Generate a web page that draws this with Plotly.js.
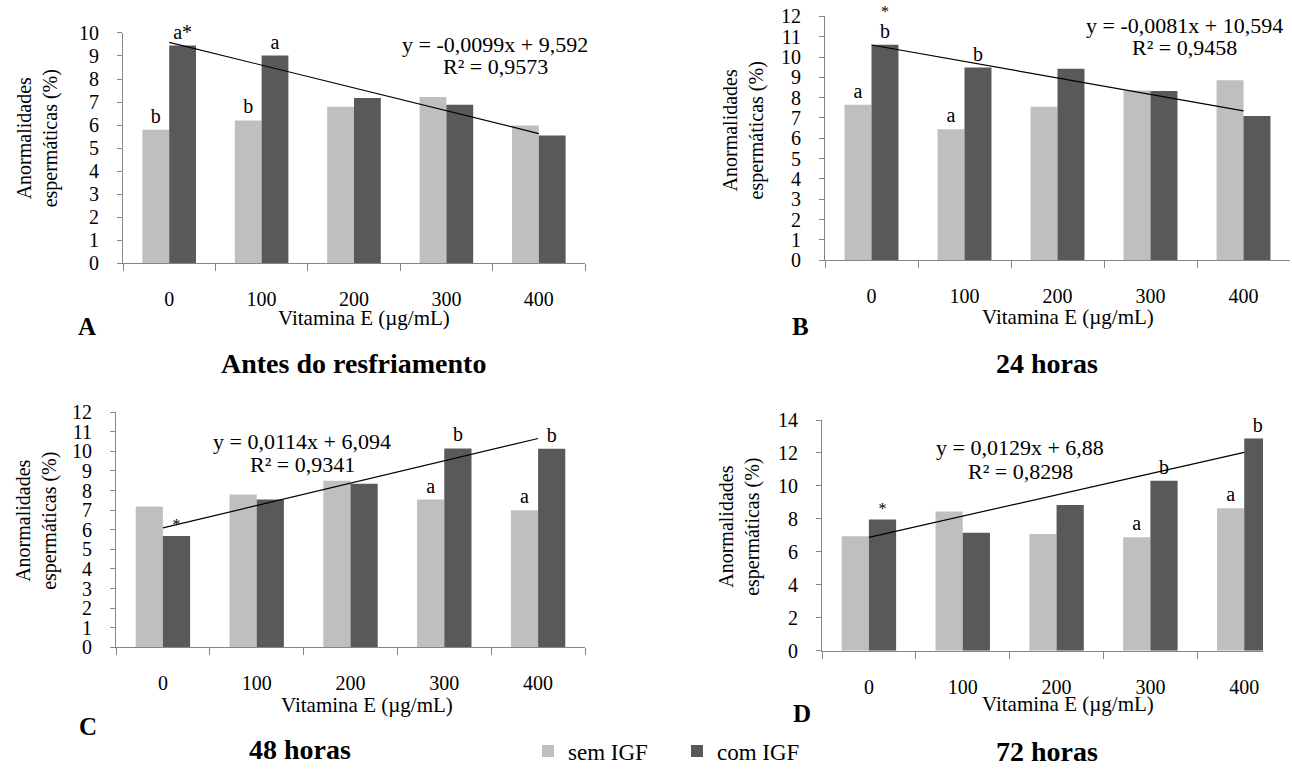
<!DOCTYPE html>
<html>
<head>
<meta charset="utf-8">
<script src="https://cdn.plot.ly/plotly-3.0.1.min.js"></script>
<style>html,body{margin:0;padding:0;background:#fff}#chart{width:1292px;height:773px}</style>
</head>
<body>
<div id="chart"></div>
<script>
// ---- data ----
const doses = ["0", "100", "200", "300", "400"];
const doseValues = [0, 100, 200, 300, 400];
const seriesNames = ["sem IGF", "com IGF"];

const semA = [5.8, 6.2, 6.8, 7.22, 5.98];
const comA = [9.45, 9.02, 7.18, 6.88, 5.55];
const semB = [7.65, 6.45, 7.55, 8.35, 8.86];
const comB = [10.6, 9.48, 9.43, 8.33, 7.1];
const semC = [7.18, 7.8, 8.5, 7.54, 7.0];
const comC = [5.68, 7.54, 8.35, 10.15, 10.13];
const semD = [6.95, 8.44, 7.08, 6.88, 8.64];
const comD = [7.96, 7.16, 8.84, 10.32, 12.88];

// letters of significance above the bars
const lblSemA = ["b", "b", "", "", ""];
const lblComA = ["a*", "a", "", "", ""];
const lblSemB = ["a", "a", "", "", ""];
const lblComB = ["b", "b", "", "", ""];
const starComB = ["*", "", "", "", ""];   // asterisk drawn above the letter
const lblSemC = ["", "", "", "a", "a"];
const lblComC = ["<span style='font-size:16px'>*</span>", "", "", "b", "b"];
const lblSemD = ["", "", "", "a", "a"];
const lblComD = ["<span style='font-size:16px'>*</span>", "", "", "b", "b"];

const slopes = [-0.0099, -0.0081, 0.0114, 0.0129];
const intercepts = [9.592, 10.594, 6.094, 6.88];
const equations = ["y = -0,0099x + 9,592", "y = -0,0081x + 10,594", "y = 0,0114x + 6,094", "y = 0,0129x + 6,88"];
const rsquared = ["R² = 0,9573", "R² = 0,9458", "R² = 0,9341", "R² = 0,8298"];
const panelLetters = ["A", "B", "C", "D"];
const panelTitles = ["Antes do resfriamento", "24 horas", "48 horas", "72 horas"];
const yMax = [10, 12, 12, 14];
const yStep = [1, 1, 1, 2];
const xTitle = "Vitamina E (µg/mL)";
const yTitle = "Anormalidades<br>espermáticas (%)";

// ---- styling / layout ----
const W = 1292, H = 773;
const FONT = "'Liberation Serif', 'Times New Roman', serif";
const LIGHT = "#bfbfbf", DARK = "#595959", AXIS = "#868686";
const px = v => v / W;
const py = v => 1 - v / H;

// panel geometry in pixels: left, right, bottom (y=0), top (y=max), x range end
const panels = [
  {l: 123, r: 585, b: 266.5, t: 33.3, xr: 4.5},
  {l: 825, r: 1290, b: 263.3, t: 16.6, xr: 4.5},
  {l: 116, r: 585, b: 655, t: 417, xr: 4.5},
  {l: 822, r: 1263, b: 658.3, t: 425, xr: 4.2}
];
const semAll = [semA, semB, semC, semD];
const comAll = [comA, comB, comC, comD];
const lblSemAll = [lblSemA, lblSemB, lblSemC, lblSemD];
const lblComAll = [lblComA, lblComB, lblComC, lblComD];

// text positions (pixels)
const eqPos = [[495, 45, 67], [1184, 26, 48], [302, 447, 470], [1020, 453, 477]];
const xTitlePos = [[364, 322], [1068, 321], [367, 713], [1068, 712]];
const yTitlePos = [[37, 140], [743, 132], [37, 527], [740, 533]];
const letterPos = [[87, 330], [800, 330], [88, 735], [802, 722]];
const titlePos = [[353, 368], [1047, 368], [300, 758], [1047, 760]];

const data = [];
const layout = {
  width: W, height: H,
  margin: {l: 0, r: 0, t: 0, b: 0},
  paper_bgcolor: "#fff", plot_bgcolor: "rgba(0,0,0,0)",
  font: {family: FONT, size: 20, color: "#000"},
  barmode: "group", bargap: 0.42, bargroupgap: 0,
  showlegend: true,
  legend: {orientation: "h", x: px(528), y: py(760), xanchor: "left", yanchor: "middle",
           font: {family: FONT, size: 23, color: "#000"}, bgcolor: "rgba(0,0,0,0)",
           entrywidth: 104, entrywidthmode: "pixels", itemwidth: 30, traceorder: "normal"},
  annotations: [], shapes: []
};

panels.forEach((p, i) => {
  const n = i === 0 ? "" : String(i + 1);
  const xa = "x" + n, ya = "y" + n;
  const textFont = {family: FONT, size: 20, color: "#000"};
  data.push({type: "bar", x: doses, y: semAll[i], name: seriesNames[0], xaxis: xa, yaxis: ya,
    marker: {color: LIGHT}, text: lblSemAll[i], textposition: "outside", textfont: textFont,
    cliponaxis: false, showlegend: i === 0, legendgroup: "sem", hoverinfo: "y"});
  data.push({type: "bar", x: doses, y: comAll[i], name: seriesNames[1], xaxis: xa, yaxis: ya,
    marker: {color: DARK}, text: lblComAll[i], textposition: "outside", textfont: textFont,
    cliponaxis: false, showlegend: i === 0, legendgroup: "com", hoverinfo: "y"});
  data.push({type: "scatter", mode: "lines", x: doses,
    y: doseValues.map(d => slopes[i] * d + intercepts[i]), xaxis: xa, yaxis: ya,
    line: {color: "#000", width: 1.2}, showlegend: false, hoverinfo: "skip", cliponaxis: false});

  layout["xaxis" + n] = {
    type: "category", domain: [px(p.l), px(p.r)], anchor: ya, range: [-0.5, p.xr],
    showline: true, linecolor: AXIS, linewidth: 1, showgrid: false, zeroline: false,
    ticks: "outside", tickson: "boundaries", ticklen: 7, tickcolor: AXIS, tickwidth: 1,
    ticklabelstandoff: 18, tickfont: {family: FONT, size: 20, color: "#000"}, fixedrange: true
  };
  layout["yaxis" + n] = {
    domain: [py(p.b), py(p.t)], anchor: xa, range: [0, yMax[i]], dtick: yStep[i], tick0: 0,
    showline: true, linecolor: AXIS, linewidth: 1, showgrid: false, zeroline: false,
    ticks: "outside", ticklen: 5, tickcolor: AXIS, tickwidth: 1, ticklabelstandoff: 14,
    tickfont: {family: FONT, size: 20, color: "#000"}, fixedrange: true
  };

  const ann = layout.annotations;
  const mk = (x, y, text, size, extra) => Object.assign({xref: "paper", yref: "paper", x: px(x), y: py(y),
    text: text, showarrow: false, xanchor: "center", yanchor: "middle",
    font: {family: FONT, size: size, color: "#000"}}, extra || {});
  ann.push(mk(eqPos[i][0], eqPos[i][1], equations[i], 22));
  ann.push(mk(eqPos[i][0], eqPos[i][2], rsquared[i], 22));
  ann.push(mk(xTitlePos[i][0], xTitlePos[i][1], xTitle, 21));
  ann.push(mk(yTitlePos[i][0], yTitlePos[i][1], yTitle, 20, {textangle: -90}));
  ann.push(mk(letterPos[i][0], letterPos[i][1], "<b>" + panelLetters[i] + "</b>", 25));
  ann.push(mk(titlePos[i][0], titlePos[i][1], "<b>" + panelTitles[i] + "</b>", 28));
});

// asterisk above the "b" of the first com-IGF bar in panel B, tied to that bar's value
starComB.forEach((s, k) => {
  if (!s) return;
  layout.annotations.push({xref: "x2", yref: "y2", x: doses[k], y: comB[k], text: s,
    showarrow: false, xanchor: "center", yanchor: "middle", xshift: 13.5, yshift: 33,
    font: {family: FONT, size: 16, color: "#000"}});
});

Plotly.newPlot("chart", data, layout, {staticPlot: true, displayModeBar: false});
</script>
</body>
</html>
